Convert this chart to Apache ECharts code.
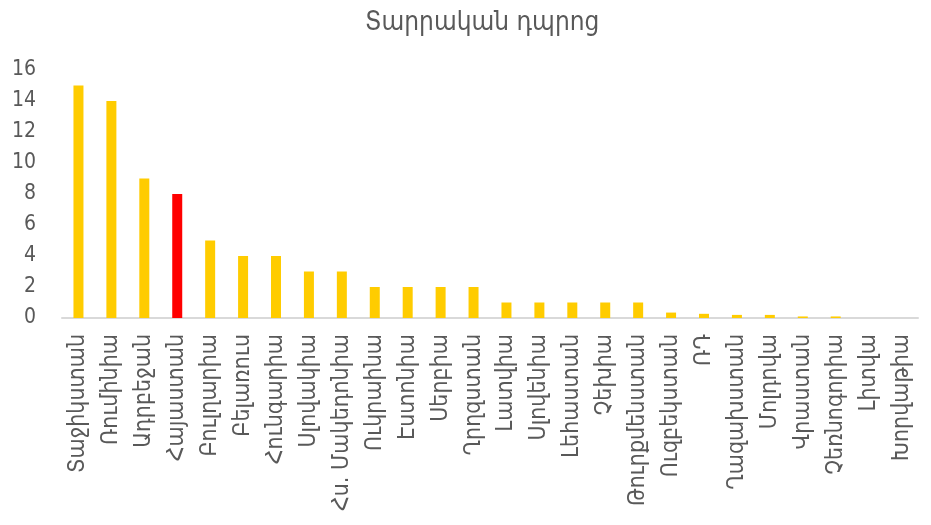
<!DOCTYPE html>
<html>
<head>
<meta charset="utf-8">
<script src="https://cdn.jsdelivr.net/npm/echarts@6/dist/echarts.min.js"></script>
<style>
  html, body { margin: 0; padding: 0; background: #fff; }
  #chart { width: 931px; height: 525px; }
</style>
</head>
<body>
<div id="chart"></div>
<script>
var titleText = 'Տարրական դպրոց';
var countries = [
    'Տաջիկստան', 'Ռումինիա', 'Ադրբեջան', 'Հայաստան', 'Բուլղարիա', 'Բելառուս',
    'Հունգարիա', 'Սլովակիա', 'Հս. Մակեդոնիա', 'Ուկրաինա', 'Էստոնիա', 'Սերբիա',
    'Ղրղզստան', 'Լատվիա', 'Սլովենիա', 'Լեհաստան', 'Չեխիա', 'Թուրքմենստան',
    'Ուզբեկստան', 'ՌԴ', 'Ղազախստան', 'Մոլդովա', 'Վրաստան', 'Չեռնոգորիա',
    'Լիտվա', 'Խորվաթիա'
];
var values = [15, 14, 9, 8, 5, 4, 4, 3, 3, 2, 2, 2, 2, 1, 1, 1, 1, 1, 0.35, 0.27, 0.2, 0.2, 0.1, 0.1, 0, 0];
var highlight = 'Հայաստան';

var yellow = '#ffcc00';
var red = '#ff0000';
var textColor = '#595959';
var font = '"DejaVu Sans Condensed", "DejaVu Sans", sans-serif';

var chart = echarts.init(document.getElementById('chart'));
var option = {
    animation: false,
    title: {
        text: titleText,
        left: 360,
        top: 5,
        textStyle: {
            color: textColor,
            fontSize: 26,
            fontWeight: 'normal',
            fontFamily: font
        }
    },
    grid: {
        left: 62,
        right: 13,
        top: 70,
        bottom: 207
    },
    xAxis: {
        type: 'category',
        data: countries,
        axisLine: { lineStyle: { color: '#d9d9d9', width: 2 } },
        axisTick: { show: false },
        axisLabel: {
            rotate: 90,
            interval: 0,
            margin: 16,
            color: textColor,
            fontSize: 23,
            fontFamily: font
        }
    },
    yAxis: {
        type: 'value',
        min: 0,
        max: 16,
        interval: 2,
        axisLine: { show: false },
        axisTick: { show: false },
        splitLine: { show: false },
        axisLabel: {
            margin: 26,
            color: textColor,
            fontSize: 21,
            fontFamily: font
        }
    },
    series: [
        {
            type: 'bar',
            barWidth: 10,
            data: values.map(function (v, i) {
                return {
                    value: v,
                    itemStyle: { color: countries[i] === highlight ? red : yellow }
                };
            })
        }
    ]
};
chart.setOption(option);
</script>
</body>
</html>
